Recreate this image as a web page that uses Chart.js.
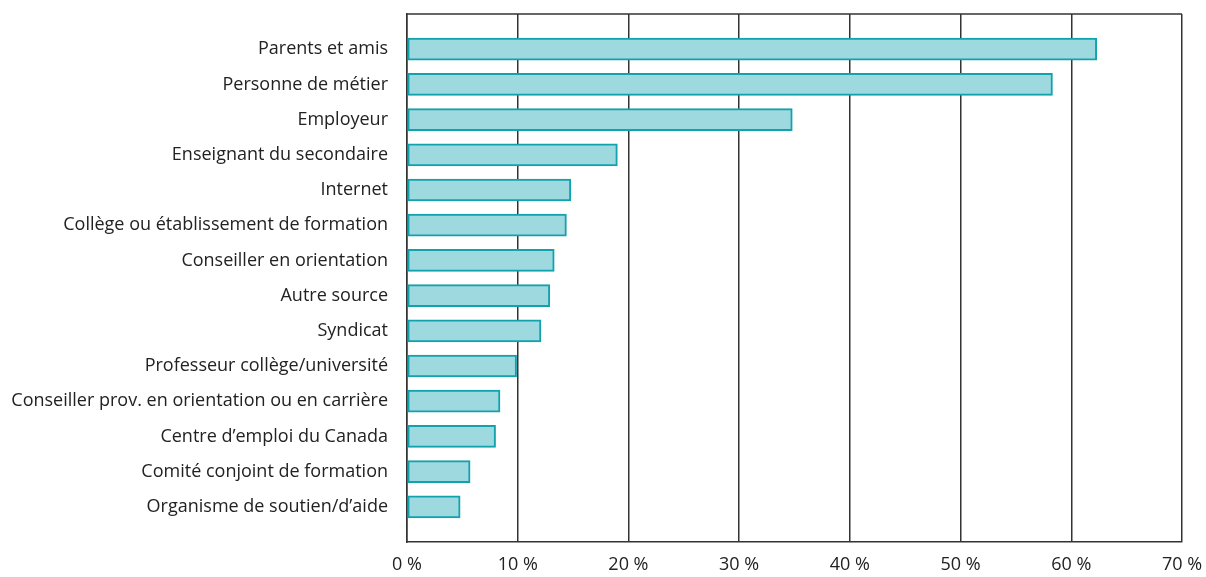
<!DOCTYPE html>
<html lang="fr">
<head>
<meta charset="utf-8">
<title>Sources d'information</title>
<script src="https://cdn.jsdelivr.net/npm/chart.js@4"></script>
<style>
  html, body { margin: 0; padding: 0; background: #fff; }
  #wrap { width: 1206px; height: 577px; }
</style>
</head>
<body>
<div id="wrap"><canvas id="barChart"></canvas></div>
<script>
// sources consultées, du plus fréquent au moins fréquent
const sources = [
    'Parents et amis',
    'Personne de métier',
    'Employeur',
    'Enseignant du secondaire',
    'Internet',
    'Collège ou établissement de formation',
    'Conseiller en orientation',
    'Autre source',
    'Syndicat',
    'Professeur collège/université',
    'Conseiller prov. en orientation ou en carrière',
    'Centre d\u2019emploi du Canada',
    'Comité conjoint de formation',
    'Organisme de soutien/d\u2019aide'
];
const pourcentages = [62.3, 58.3, 34.8, 19.0, 14.8, 14.4, 13.3, 12.9, 12.1, 9.9, 8.4, 8.0, 5.7, 4.8];
const xTicks = [0, 10, 20, 30, 40, 50, 60, 70];

const fontFamily = '"Open Sans", sans-serif';
const textColor = '#222';
const lineColor = '#333';

// une case vide en haut et en bas pour laisser de l'espace autour des barres
const labels = [''].concat(sources, ['']);
const values = [null].concat(pourcentages, [null]);

// trait du haut du cadre
const frameTop = {
    id: 'frameTop',
    afterDatasetsDraw(chart) {
        const a = chart.chartArea;
        const c = chart.ctx;
        c.save();
        c.strokeStyle = lineColor;
        c.lineWidth = 1.5;
        c.beginPath();
        c.moveTo(a.left, a.top);
        c.lineTo(a.right, a.top);
        c.stroke();
        c.restore();
    }
};

const ctx = document.getElementById('barChart').getContext('2d');
new Chart(ctx, {
    type: 'bar',
    data: {
        labels: labels,
        datasets: [{
            data: values,
            backgroundColor: '#9fd9e0',
            borderColor: '#10a2ad',
            borderWidth: 2,
            borderSkipped: false,
            barThickness: 22
        }]
    },
    options: {
        indexAxis: 'y',
        responsive: true,
        maintainAspectRatio: false,
        animation: false,
        layout: { padding: { top: 14, right: 24, left: 0, bottom: 0 } },
        plugins: {
            legend: { display: false },
            tooltip: { enabled: false }
        },
        scales: {
            x: {
                min: 0,
                max: 70,
                afterBuildTicks: axis => {
                    axis.ticks = xTicks.map(v => ({ value: v }));
                },
                afterFit: axis => {
                    axis.height = 35;
                    axis.paddingLeft = 0;
                    axis.paddingRight = 0;
                },
                grid: {
                    color: lineColor,
                    lineWidth: 1.5,
                    drawTicks: false
                },
                border: { color: lineColor, width: 1.5 },
                ticks: {
                    padding: 12,
                    color: textColor,
                    font: { family: fontFamily, size: 18 },
                    callback: v => v + ' %'
                }
            },
            y: {
                offset: false,
                afterFit: axis => {
                    axis.width = 407;
                    axis.paddingTop = 0;
                    axis.paddingBottom = 0;
                },
                grid: { display: false, drawTicks: false },
                border: { color: lineColor, width: 1.5 },
                ticks: {
                    padding: 19,
                    autoSkip: false,
                    color: textColor,
                    font: { family: fontFamily, size: 18 }
                }
            }
        }
    },
    plugins: [frameTop]
});
</script>
</body>
</html>
